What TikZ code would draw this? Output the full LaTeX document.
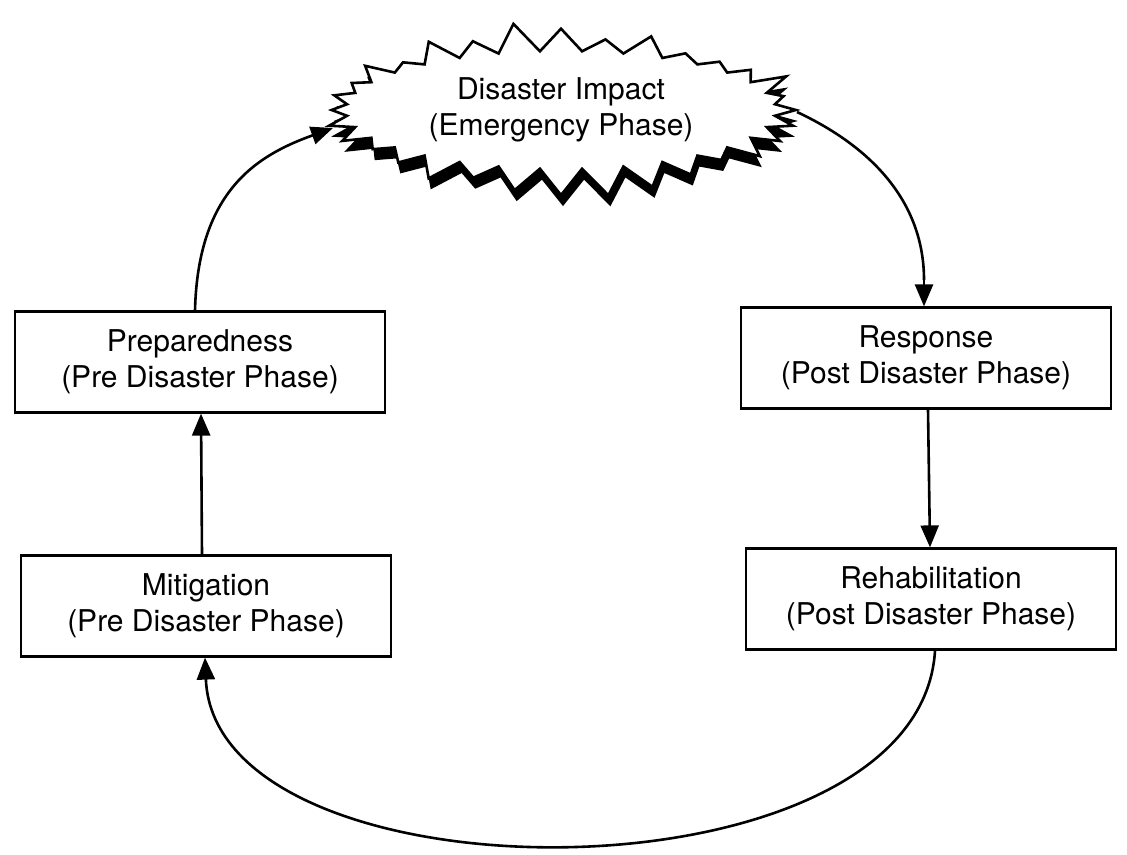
\documentclass[tikz,border=0pt]{standalone}
\usepackage{fontspec}
\setmainfont{TeX Gyre Heros}
\usetikzlibrary{shapes.symbols,shadows,arrows.meta}
\begin{document}
\begin{tikzpicture}[x=1pt,y=-1pt,
  lbl/.style={align=center, font=\fontsize{30}{36}\selectfont},
  phase/.style={lbl, draw, line width=2.2pt, minimum width=370pt, minimum height=101pt, inner sep=0pt},
  flow/.style={line width=2.6pt, -{Triangle[length=22pt,width=18pt]}}]
\useasboundingbox (0,0) rectangle (1127,854);
\fill[white] (0,0) rectangle (1127,854);

\node[lbl, starburst, starburst points=32, starburst point height=30pt, random starburst=11,
      minimum width=490pt, minimum height=178pt, inner sep=0pt, fill=white, draw, line width=2.6pt,
      drop shadow={shadow xshift=2pt, shadow yshift=-11pt, fill=black, opacity=1}]
  (impact) at (561,110) {Disaster Impact\\(Emergency Phase)};

\node[phase] (prep)  at (200,362)   {Preparedness\\(Pre Disaster Phase)};
\node[phase] (mitig) at (206,606)   {Mitigation\\(Pre Disaster Phase)};
\node[phase] (resp)  at (926,358)   {Response\\(Post Disaster Phase)};
\node[phase] (rehab) at (931,599)   {Rehabilitation\\(Post Disaster Phase)};

\coordinate (impIn)  at (333,128);
\coordinate (impOut) at (797,112);

\draw[flow] ([xshift=-5pt]prep.north) .. controls (198,190) and (258,155) .. (impIn);
\draw[line width=2.6pt] (impOut) .. controls (878,150) and (924,207) .. (924,280) coordinate (rdown);
\draw[flow] (rdown) -- ([xshift=-2pt]resp.north);
\draw[flow] ([xshift=2pt]resp.south) -- ([xshift=-1pt]rehab.north);
\draw[flow] ([xshift=-4pt]mitig.north) -- ([xshift=1pt]prep.south);
\draw[flow] ([xshift=4pt]rehab.south) .. controls (920,908) and (215,908) .. ([xshift=-1pt]mitig.south);
\end{tikzpicture}
\end{document}
